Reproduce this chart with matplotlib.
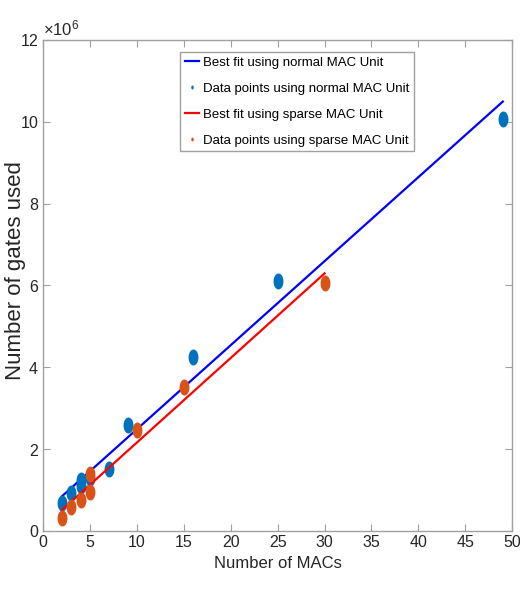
import numpy as np
import matplotlib
matplotlib.use("Agg")
import matplotlib.pyplot as plt
from matplotlib.ticker import ScalarFormatter

# data
macs_normal = [2, 3, 4, 4, 5, 7, 9, 16, 25, 49]
gates_normal = [0.68e6, 0.94e6, 1.10e6, 1.25e6, 1.29e6, 1.52e6, 2.59e6, 4.25e6, 6.12e6, 10.08e6]
macs_sparse = [2, 3, 4, 5, 5, 10, 15, 30]
gates_sparse = [0.31e6, 0.59e6, 0.76e6, 0.96e6, 1.39e6, 2.47e6, 3.53e6, 6.06e6]

labels = ["Best fit using normal MAC Unit", "Data points using normal MAC Unit",
          "Best fit using sparse MAC Unit", "Data points using sparse MAC Unit"]

plt.rcParams['font.family'] = ['Liberation Sans', 'DejaVu Sans']
plt.rcParams['mathtext.fontset'] = 'custom'
plt.rcParams['mathtext.rm'] = 'Liberation Sans'

# tall ellipse marker
t = np.linspace(0, 2 * np.pi, 40)
ell = np.column_stack([0.62 * np.cos(t), np.sin(t)])

fig = plt.figure(figsize=(5.2, 5.93), dpi=100)
ax = fig.add_axes([0.083, 0.1046, 0.902, 0.828])

# linear fits
pn = np.polyfit(macs_normal, gates_normal, 1)
ps = np.polyfit(macs_sparse, gates_sparse, 1)
xn = np.array([min(macs_normal), max(macs_normal)])
xs = np.array([min(macs_sparse), max(macs_sparse)])

ax.plot(xn, np.polyval(pn, xn), color='#0000ff', lw=1.6, label=labels[0])
ax.plot(macs_normal, gates_normal, ls='none', marker=ell, ms=11.5, color='#0072BD',
        mec='none', label=labels[1])
ax.plot(xs, np.polyval(ps, xs), color='#ff0000', lw=1.6, label=labels[2])
ax.plot(macs_sparse, gates_sparse, ls='none', marker=ell, ms=11.5, color='#D95319',
        mec='none', label=labels[3])

ax.set_xlim(0, 50)
ax.set_ylim(0, 12e6)
ax.set_xticks(np.arange(0, 51, 5))
ax.set_yticks(np.arange(0, 12.1e6, 2e6))

fmt = ScalarFormatter(useMathText=True)
fmt.set_powerlimits((6, 6))
ax.yaxis.set_major_formatter(fmt)
ax.yaxis.get_offset_text().set_fontsize(12)
ax.yaxis.get_offset_text().set_color('#262626')

for s in ax.spines.values():
    s.set_color('#a0a0a0')
    s.set_linewidth(1.0)
ax.tick_params(direction='in', top=True, right=True, length=5, width=0.8,
               color='#a0a0a0', labelsize=11.5, labelcolor='#262626', pad=3)

ax.set_xlabel("Number of MACs", fontsize=12, color='#262626', labelpad=4)
ax.set_ylabel("Number of gates used", fontsize=16, color='#262626')
ax.yaxis.set_label_coords(-0.036, 0.53)

leg = ax.legend(loc='upper left', bbox_to_anchor=(0.292, 0.976), borderaxespad=0,
                fontsize=9.5, handlelength=1.1, handletextpad=0.3, markerscale=0.25,
                labelspacing=1.05, borderpad=0.35, fancybox=False, framealpha=1)
leg.get_frame().set_edgecolor('#a0a0a0')
leg.get_frame().set_linewidth(1.0)

fig.savefig("out.png", dpi=100)
